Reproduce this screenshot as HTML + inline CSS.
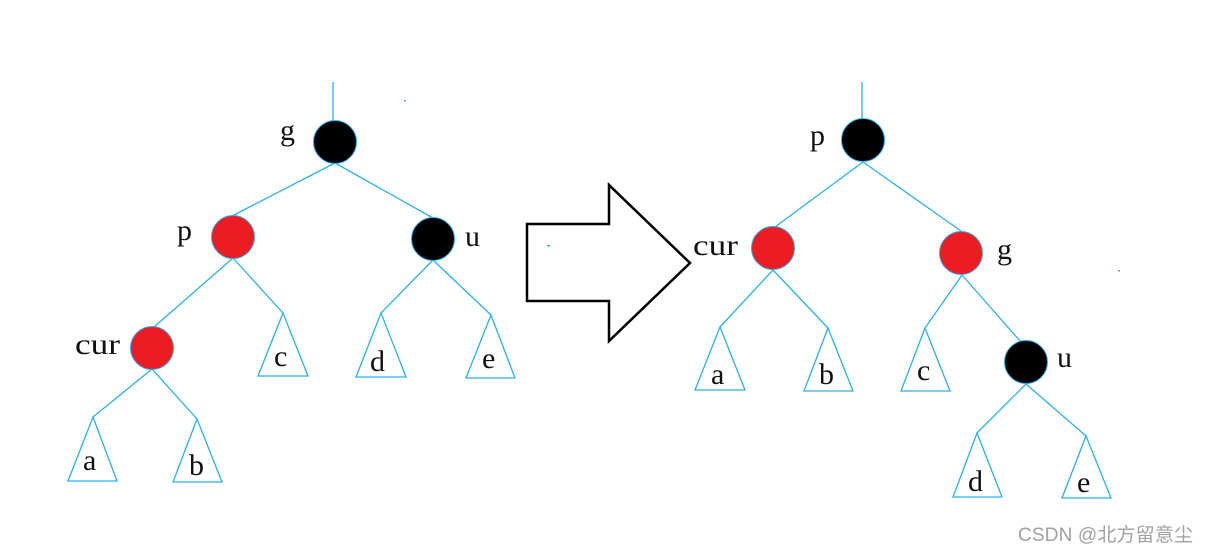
<!DOCTYPE html>
<html><head><meta charset="utf-8"><style>
html,body{margin:0;padding:0;background:#fff;}
svg{display:block}
text{font-family:"Liberation Serif",serif;font-size:30px;fill:#111;}
</style></head><body>
<svg width="1207" height="552" viewBox="0 0 1207 552" xmlns="http://www.w3.org/2000/svg">
<g stroke="#2ab0ef" stroke-width="1.3" fill="none">
<line x1="333" y1="82" x2="333" y2="121"/>
<line x1="335" y1="163" x2="232" y2="216"/>
<line x1="335" y1="163" x2="433" y2="218"/>
<line x1="233" y1="258" x2="154" y2="327"/>
<line x1="233" y1="258" x2="283" y2="313"/>
<line x1="433" y1="260" x2="381" y2="313"/>
<line x1="433" y1="260" x2="491" y2="315"/>
<line x1="152" y1="369" x2="93" y2="417"/>
<line x1="152" y1="369" x2="197" y2="419"/>
<polygon points="283,313 258,376 308,376"/>
<polygon points="381,313 356,377 406,377"/>
<polygon points="491,315 466,378 515,378"/>
<polygon points="93,417 68,481 117,481"/>
<polygon points="197,419 173,482 222,482"/>
<line x1="862" y1="82" x2="862" y2="118"/>
<line x1="863" y1="162" x2="775" y2="227"/>
<line x1="863" y1="162" x2="961" y2="231"/>
<line x1="773" y1="270" x2="720" y2="327"/>
<line x1="773" y1="270" x2="828" y2="328"/>
<line x1="962" y1="275" x2="925" y2="328"/>
<line x1="962" y1="275" x2="1021" y2="342"/>
<line x1="1026" y1="384" x2="977" y2="433"/>
<line x1="1026" y1="384" x2="1086" y2="436"/>
<polygon points="720,327 695,390 745,390"/>
<polygon points="828,328 804,391 853,391"/>
<polygon points="925,328 901,391 950,391"/>
<polygon points="977,433 953,497 1002,497"/>
<polygon points="1086,436 1062,498 1111,498"/>
</g>
<g stroke="#2ab0ef" stroke-width="1">
<circle cx="335" cy="142" r="21.5" fill="#000"/>
<circle cx="233" cy="237" r="21.5" fill="#ed1c24"/>
<circle cx="433" cy="239" r="21.5" fill="#000"/>
<circle cx="152" cy="348" r="21.5" fill="#ed1c24"/>
<circle cx="863" cy="140" r="21.5" fill="#000"/>
<circle cx="773" cy="248" r="21.5" fill="#ed1c24"/>
<circle cx="961" cy="253" r="21.5" fill="#ed1c24"/>
<circle cx="1026" cy="362" r="21.5" fill="#000"/>
</g>
<polygon points="527,224 609,224 609,185 690,263 609,341 609,301 527,301" fill="none" stroke="#000" stroke-width="2.5"/>
<g>
<text x="280" y="140">g</text>
<text x="177" y="240">p</text>
<text x="465" y="246">u</text>
<text x="75" y="354" textLength="45" lengthAdjust="spacingAndGlyphs">cur</text>
<text x="274" y="366">c</text>
<text x="370" y="371">d</text>
<text x="482" y="368">e</text>
<text x="83" y="470">a</text>
<text x="189" y="475">b</text>
<text x="810" y="145">p</text>
<text x="693" y="255" textLength="45" lengthAdjust="spacingAndGlyphs">cur</text>
<text x="997" y="259">g</text>
<text x="1057" y="367">u</text>
<text x="711" y="384">a</text>
<text x="819" y="384">b</text>
<text x="917" y="380">c</text>
<text x="968" y="491">d</text>
<text x="1077" y="492">e</text>
</g>
<text x="1018" y="541" textLength="175" style="font-family:'Liberation Sans','Noto Sans CJK SC',sans-serif;font-size:19px;fill:#a0a0a0">CSDN @北方留意尘</text>
<rect x="404" y="100" width="2" height="1.5" fill="#2ab0ef"/>
<rect x="547" y="245" width="3" height="1.5" fill="#2ab0ef"/>
<rect x="1118" y="270" width="2" height="1.5" fill="#2ab0ef"/>
</svg>
</body></html>
